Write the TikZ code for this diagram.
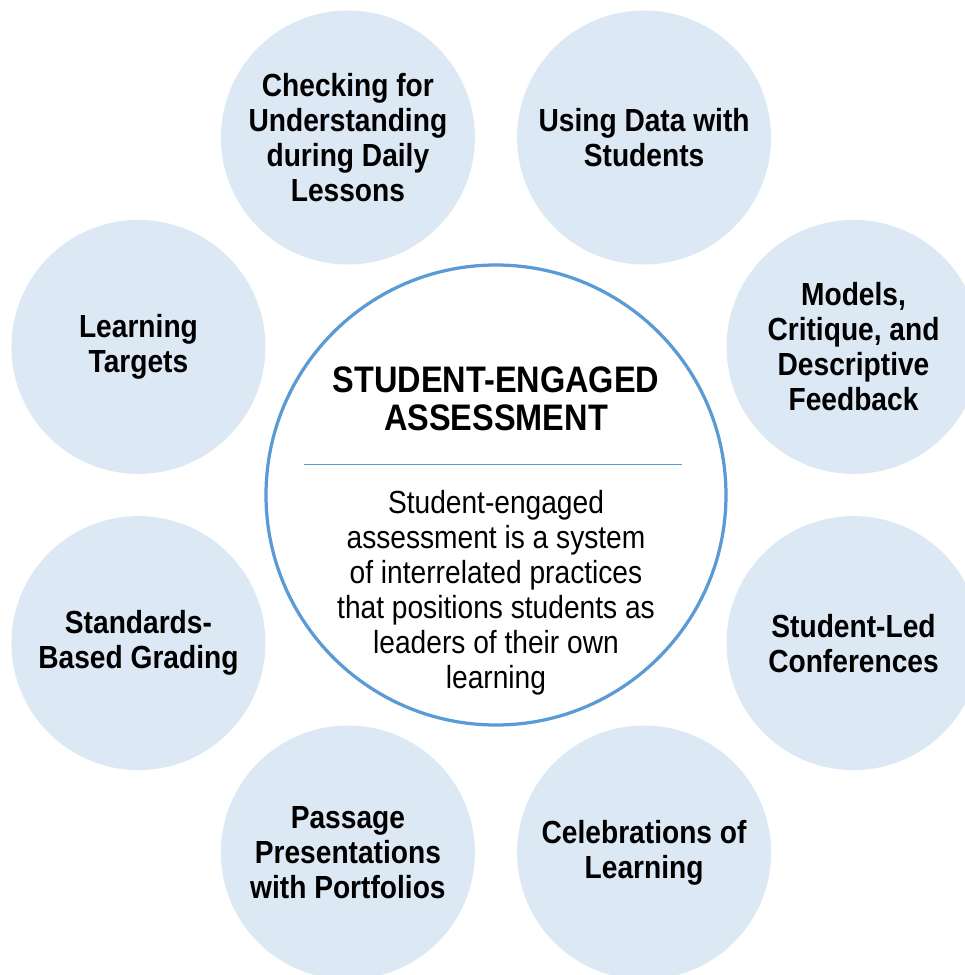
\documentclass[tikz,border=0pt]{standalone}
\usepackage{fontspec}
\setmainfont[FakeStretch=0.88]{Liberation Sans}
\usepackage{tikz}
\definecolor{petalblue}{RGB}{221,232,245}
\definecolor{ringblue}{RGB}{91,155,213}
\newcommand{\drawPractice}[3]{\node [practice] (#1) at (#2:7.74) {#3}}

\begin{document}
\begin{tikzpicture}[
    practice/.style={circle, fill=petalblue, minimum size=5.08cm, inner sep=0pt, align=center,
        font=\fontsize{18.2}{19.9}\selectfont\bfseries},
    hub/.style={circle, draw=ringblue, line width=0.065cm, fill=white, minimum size=9.2cm, inner sep=0pt},
    title/.style={align=center, font=\fontsize{21}{21.6}\selectfont\bfseries},
    blurb/.style={align=center, font=\fontsize{18.2}{19.9}\selectfont}
]
    \useasboundingbox (-9.92,-9.6) rectangle (9.38,9.9);

    % the eight practices round the hub
    \drawPractice{checking}{112.5}{Checking for\\Understanding\\during Daily\\Lessons};
    \drawPractice{usingdata}{67.5}{Using Data with\\Students};
    \drawPractice{models}{22.5}{Models,\\Critique, and\\Descriptive\\Feedback};
    \drawPractice{ledconf}{-22.5}{Student-Led\\Conferences};
    \drawPractice{celebrate}{-67.5}{Celebrations of\\Learning};
    \drawPractice{passage}{-112.5}{Passage\\Presentations\\with Portfolios};
    \drawPractice{standards}{-157.5}{Standards-\\Based Grading};
    \drawPractice{targets}{157.5}{Learning\\Targets};

    % the hub
    \node [hub] (hub) at (0,0) {};
    \node [title] (hubtitle) at (0,1.92) {STUDENT-ENGAGED\\ASSESSMENT};
    \coordinate (divL) at (-3.84,0.62);
    \coordinate (divR) at (3.72,0.62);
    \draw [ringblue, line width=0.02cm] (divL) -- (divR);
    \node [blurb] (hubtext) at (0,-1.95) {Student-engaged\\assessment is a system\\of interrelated practices\\that positions students as\\leaders of their own\\learning};

\end{tikzpicture}
\end{document}
